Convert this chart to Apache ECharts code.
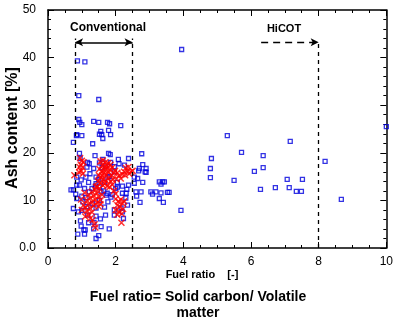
<!DOCTYPE html>
<html><head><meta charset="utf-8">
<script src="https://cdn.jsdelivr.net/npm/echarts@6/dist/echarts.min.js"></script>
<style>html,body{margin:0;padding:0;background:#fff}#c{width:396px;height:322px}</style>
</head><body><div id="c"></div>
<script>
// ---- data ----
const xRange = [0, 10];
const yRange = [0, 50];
const conventionalBounds = [0.8, 2.5];
const hicotBound = 8;
const arrowLevel = 43.2;
const blueSquares = [
  [0.87,39.3],[1.09,39.1],[3.95,41.7],[0.91,32.0],[1.5,31.2],[0.91,27.0],[0.94,26.4],[1.0,25.9],
  [1.35,26.6],[1.5,26.4],[1.76,26.4],[1.82,26.1],[2.15,25.7],[1.56,24.5],[1.59,23.8],[1.79,24.7],
  [1.85,23.8],[0.84,23.6],[1.0,23.6],[1.62,23.0],[5.3,23.6],[10.0,25.5],
  [7.16,22.4],[4.83,18.8],[5.72,20.1],[6.36,19.4],[4.8,16.7],[6.36,16.9],[6.1,16.1],[4.8,14.8],
  [5.5,14.2],[7.07,14.4],[7.52,14.4],[6.28,12.3],[6.72,12.7],[7.13,12.7],[7.34,11.9],[7.49,11.9],
  [8.19,18.2],[8.67,10.2],
  [3.93,7.9],[3.04,11.8],[3.19,11.8],[3.09,11.3],[3.34,11.6],[3.29,10.4],[3.41,9.6],[3.53,11.7],
  [3.58,11.7],[3.29,13.9],[3.39,13.9],[3.44,13.9],[3.34,13.4],[2.62,10.9],[2.75,11.8],[2.65,14.6],
  [2.8,13.8],[2.8,17.5],[2.77,19.8],[2.7,16.7],[2.87,16.0],[2.9,16.7],[2.72,9.6],[2.6,11.8],
  [2.55,14.9],[2.68,16.2],[2.55,13.6],[2.9,15.9],
  [0.85,23.8],[0.75,22.2],[1.32,21.9],[1.52,23.9],[0.93,19.9],[1.39,19.4],[1.79,19.9],[1.84,19.6],
  [2.08,18.6],[2.38,18.8],[2.26,17.4],[2.1,17.7],[1.17,18.0],[0.95,18.8],[0.68,12.2],[0.75,12.2],
  [0.82,11.3],[0.85,10.4],[0.75,8.3],[0.9,7.6],[1.0,7.9],[0.96,5.7],[0.98,4.6],[0.88,2.9],
  [1.06,3.8],[1.1,3.8],[1.08,2.9],[1.17,6.9],[1.2,5.3],[1.42,6.7],[1.36,5.4],[1.35,4.0],
  [1.42,2.0],[1.5,2.6],[1.57,4.5],[1.55,6.1],[1.81,4.0],[1.7,6.9],[1.96,6.9],[1.96,8.0],
  [2.2,7.6],[2.23,6.2],[2.16,8.4],[2.31,11.5],[2.33,12.3],[2.38,13.2],[2.2,13.0],[2.05,12.8],
  [2.05,13.8],[1.96,16.0],[1.96,17.1],[1.85,18.0],[1.62,18.6],[1.52,17.9],[1.35,16.7],[1.24,15.6],
  [1.12,14.9],[0.98,14.3],[0.93,13.2],[1.08,12.5],[1.22,11.8],[1.42,13.5],[1.52,12.8],[1.67,13.8],
  [1.77,14.9],[1.42,14.9],[1.57,11.8],[1.72,11.1],[1.86,10.7],[1.52,10.0],[1.32,9.3],[1.15,8.7],
  [1.03,9.7],[1.42,8.4],[1.67,8.6],[1.77,9.7],[1.0,10.9],[1.12,10.6],[0.85,13.2],[0.85,14.9],
  [1.15,17.0],[1.22,17.7],[1.6,16.9],[1.7,17.2],[1.82,15.0],[1.5,14.4],[1.65,12.0],[1.4,13.0],
  [1.3,12.5],[1.2,13.8],[1.75,11.5],[1.9,11.2],[2.0,12.5],[2.2,11.5],[2.3,10.5],[2.35,9.0]
];
const redCrosses = [
  [0.95,18.9],[1.0,18.3],[0.97,17.5],[1.02,16.9],[0.98,16.2],[1.03,15.6],[0.92,15.9],[0.78,15.3],[1.05,18.0],[0.93,17.0],
  [1.55,18.2],[1.62,18.4],[1.7,18.0],[1.78,17.8],[1.85,17.5],[1.6,17.3],[1.68,17.0],[1.75,16.8],[1.82,16.5],[1.9,16.9],
  [1.52,16.6],[1.58,16.0],[1.65,15.8],[1.72,15.5],[1.8,15.9],[1.88,15.2],[1.5,15.3],[1.56,14.8],[1.63,14.5],[1.7,14.2],
  [1.78,14.6],[1.85,14.0],[1.92,14.4],[1.48,14.0],[1.55,13.6],[1.62,13.2],[1.68,13.5],[1.75,13.0],[1.82,12.8],[1.45,12.9],
  [1.52,12.5],[1.9,13.3],[1.66,16.4],[1.74,17.4],[1.6,15.2],[1.95,15.8],
  [1.4,12.2],[1.3,11.8],[1.45,11.5],[1.35,11.0],[1.5,10.8],[1.25,10.5],[1.4,10.2],[1.55,10.0],[1.15,10.0],[1.3,9.7],
  [1.45,9.5],[1.2,9.2],[1.05,9.0],[1.35,8.9],[1.1,8.5],[1.25,8.3],[1.5,8.7],[1.0,8.0],[1.15,7.8],[1.3,7.5],
  [1.2,7.0],[1.1,6.6],[1.6,11.2],[1.55,9.2],[0.98,10.2],[1.42,12.8],[1.2,11.2],[1.08,11.6],
  [1.32,5.9],[1.38,5.0],[1.4,4.3],[1.25,6.2],
  [1.98,16.2],[2.05,15.8],[2.1,15.2],[2.15,14.6],[2.2,15.5],[2.02,14.5],[2.25,16.0],
  [2.3,16.8],[2.35,16.2],[2.4,15.6],[2.45,16.0],[2.28,15.3],[2.38,17.0],[2.5,16.2],
  [2.0,10.3],[2.08,9.8],[2.15,10.2],[2.2,9.4],[2.05,9.0],[2.12,8.6],[2.22,8.2],[2.0,8.0],[2.1,7.6],[2.18,7.2],
  [2.25,9.8],[2.05,7.0],[2.17,5.3],[1.95,12.0],[2.0,11.4]
];

const FONT = '"Liberation Sans Narrow","Liberation Sans",Arial,sans-serif';
const chart = echarts.init(document.getElementById('c'), null, {renderer: 'canvas'});

function axisCommon(showLabel, min, max, interval, minorSplit) {
  return {
    type: 'value', min: min, max: max, interval: interval,
    axisLine: {show: true, onZero: false, lineStyle: {color: '#000', width: 1.5}},
    axisTick: {show: true, inside: true, length: 6, lineStyle: {color: '#000', width: 1}},
    minorTick: {show: true, splitNumber: minorSplit, length: 3, lineStyle: {color: '#000', width: 1}},
    splitLine: {show: false},
    axisLabel: {show: showLabel, color: '#000', fontFamily: FONT, fontSize: 12}
  };
}

const xBottom = Object.assign(axisCommon(true, xRange[0], xRange[1], 2, 4), {position: 'bottom'});
xBottom.axisLabel.margin = 8;
const xTop = Object.assign(axisCommon(false, xRange[0], xRange[1], 2, 4), {position: 'top'});
const yLeft = Object.assign(axisCommon(true, yRange[0], yRange[1], 10, 5), {position: 'left'});
yLeft.axisLabel.margin = 12;
yLeft.axisLabel.formatter = v => v === 0 ? '0.0' : String(v);
const yRight = Object.assign(axisCommon(false, yRange[0], yRange[1], 10, 5), {position: 'right'});

const dash = {color: '#000', width: 1.3, type: [4, 4]};
const c0 = conventionalBounds[0], c1 = conventionalBounds[1];

chart.setOption({
  animation: false,
  backgroundColor: '#fff',
  grid: {left: 48, right: 9, top: 10, bottom: 74},
  xAxis: [xBottom, xTop],
  yAxis: [yLeft, yRight],
  series: [
    {
      type: 'scatter', xAxisIndex: 0, yAxisIndex: 0,
      data: blueSquares, symbol: 'rect', symbolSize: 4,
      itemStyle: {color: 'rgba(255,255,255,0)', borderColor: '#0000dd', borderWidth: 1.3},
      markLine: {
        silent: true, animation: false, symbol: ['none', 'none'],
        label: {show: false},
        data: [
          [{coord: [c0, 0], lineStyle: dash}, {coord: [c0, arrowLevel + 0.8]}],
          [{coord: [c1, 0], lineStyle: dash}, {coord: [c1, arrowLevel + 0.8]}],
          [{coord: [hicotBound, 0], lineStyle: dash}, {coord: [hicotBound, arrowLevel]}],
          [{coord: [c0, arrowLevel], symbol: 'arrow', symbolSize: [6, 8], lineStyle: {color: '#000', width: 1.5, type: 'solid'}},
           {coord: [c1, arrowLevel], symbol: 'arrow', symbolSize: [6, 8]}],
          [{coord: [6.3, arrowLevel], symbol: 'none', lineStyle: {color: '#000', width: 1.3, type: [7, 5]}},
           {coord: [hicotBound, arrowLevel], symbol: 'arrow', symbolSize: [6, 8]}]
        ]
      }
    },
    {
      type: 'scatter', xAxisIndex: 0, yAxisIndex: 0,
      data: redCrosses, symbol: 'path://M0,0L10,10M10,0L0,10', symbolSize: 6,
      itemStyle: {color: 'none', borderColor: '#ff0000', borderWidth: 1.5}
    }
  ],
  graphic: [
    {type: 'text', x: 108, y: 28, style: {text: 'Conventional', font: 'bold 12px ' + FONT, fill: '#000', textAlign: 'center', textVerticalAlign: 'middle'}},
    {type: 'text', x: 284, y: 29, style: {text: 'HiCOT', font: 'bold 11px ' + FONT, fill: '#000', textAlign: 'center', textVerticalAlign: 'middle'}},
    {type: 'text', x: 202, y: 275, style: {text: 'Fuel ratio    [-]', font: 'bold 11px ' + FONT, fill: '#000', textAlign: 'center', textVerticalAlign: 'middle'}},
    {type: 'text', x: 13, y: 128, rotation: Math.PI / 2, style: {text: 'Ash content [%]', font: 'bold 16px ' + FONT, fill: '#000', textAlign: 'center', textVerticalAlign: 'middle'}},
    {type: 'text', x: 198, y: 297, style: {text: 'Fuel ratio= Solid carbon/ Volatile', font: 'bold 14px ' + FONT, fill: '#000', textAlign: 'center', textVerticalAlign: 'middle'}},
    {type: 'text', x: 198, y: 313, style: {text: 'matter', font: 'bold 14px ' + FONT, fill: '#000', textAlign: 'center', textVerticalAlign: 'middle'}}
  ]
});
</script></body></html>
